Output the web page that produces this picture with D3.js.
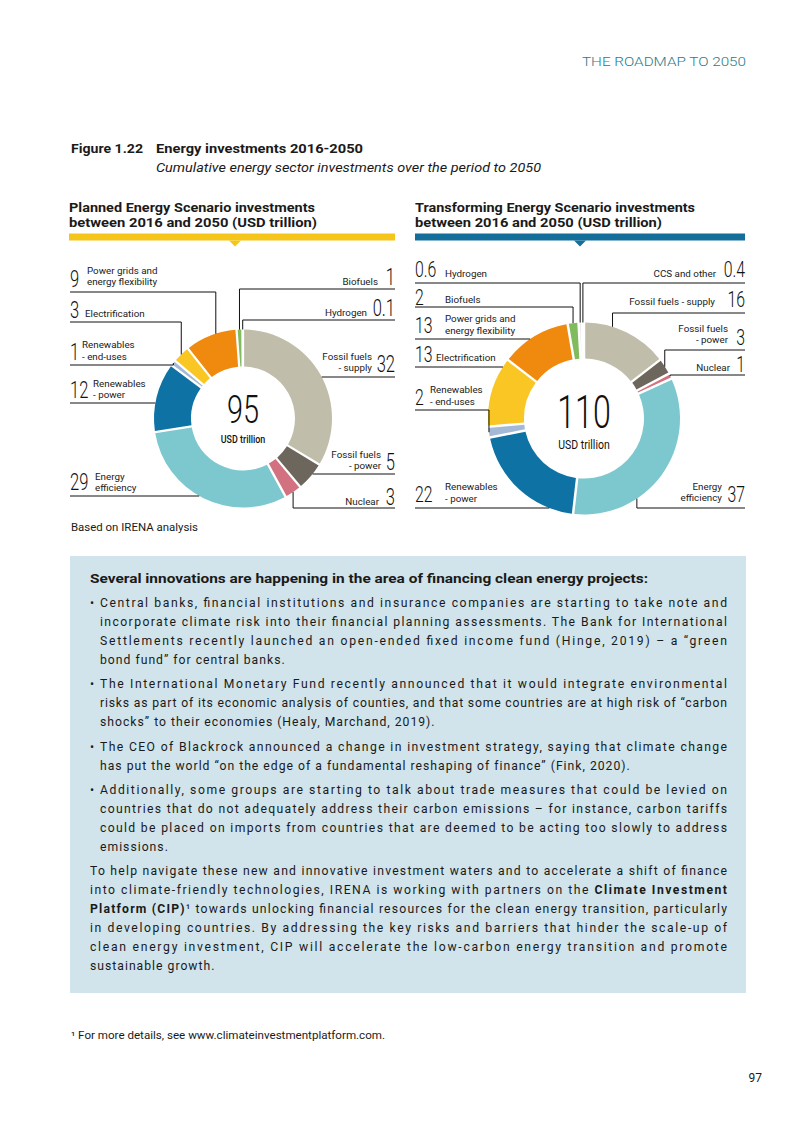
<!DOCTYPE html>
<html><head><meta charset="utf-8">
<script src="https://cdn.jsdelivr.net/npm/d3@7"></script>
<style>
body{margin:0;background:#fff;}
svg{display:block;}
</style></head><body>
<svg id="page" width="803" height="1134"></svg>
<script>
// ---------- DATA ----------
const categories = ["Fossil fuels - supply","Fossil fuels - power","Nuclear","Energy efficiency","Renewables - power","Renewables - end-uses","Electrification","Power grids and energy flexibility","Biofuels","Hydrogen","CCS and other"];
const plannedValues = [32,5,3,29,12,1,3,9,1,0.1,0];
const transformingValues = [16,3,1,37,22,2,13,13,2,0.6,0.4];
const plannedTotal = 95;
const transformingTotal = 110;
const totalUnit = "USD trillion";
const sliceColors = ["#C0BDAA","#6D665C","#D2717F","#7DC8CF","#0E73A4","#A4B9D6","#F9C623","#F08A0E","#80BB5E","#E4E4E4","#D2D2D2"];

// ---------- LAYOUT (label placement) ----------
const plannedLayout = [
 {i:7, side:"L", lineY:292, numY:287, lines:["Power grids and","energy flexibility"], tx:87, ty:[273.5,285], mode:"elbow", at:0.6},
 {i:6, side:"L", lineY:322, numY:318, lines:["Electrification"], tx:85, ty:[317], mode:"elbow"},
 {i:5, side:"L", lineY:365, numY:360, lines:["Renewables","- end-uses"], tx:82, ty:[348,359.5], mode:"elbow"},
 {i:4, side:"L", lineY:403, numY:398, lines:["Renewables","- power"], tx:93, ty:[386.5,398], mode:"flat"},
 {i:3, side:"L", lineY:496, numY:490, lines:["Energy","efficiency"], tx:95, ty:[479.5,491], mode:"flat"},
 {i:8, side:"R", lineY:289, numY:285, lines:["Biofuels"], tx:378, ty:[285], mode:"elbow"},
 {i:9, side:"R", lineY:320, numY:316, lines:["Hydrogen"], tx:367, ty:[316], mode:"elbow"},
 {i:0, side:"R", lineY:377, numY:372, lines:["Fossil fuels","- supply"], tx:372, ty:[359.5,371], mode:"flat"},
 {i:1, side:"R", lineY:474, numY:470, lines:["Fossil fuels","- power"], tx:381, ty:[457.5,469], mode:"flat"},
 {i:2, side:"R", lineY:508, numY:505, lines:["Nuclear"], tx:379, ty:[505], mode:"elbow"}
];
const transformingLayout = [
 {i:9, side:"L", lineY:283, numY:277, lines:["Hydrogen"], tx:445, ty:[277], mode:"elbow"},
 {i:8, side:"L", lineY:307, numY:305, lines:["Biofuels"], tx:445, ty:[303], mode:"elbow"},
 {i:7, side:"L", lineY:339, numY:333, lines:["Power grids and","energy flexibility"], tx:445, ty:[322,333.5], mode:"flat"},
 {i:6, side:"L", lineY:367, numY:362, lines:["Electrification"], tx:436, ty:[361], mode:"flat"},
 {i:5, side:"L", lineY:410, numY:405, lines:["Renewables","- end-uses"], tx:430, ty:[393,405], mode:"elbow"},
 {i:4, side:"L", lineY:508, numY:502, lines:["Renewables","- power"], tx:445, ty:[490,502], mode:"flat"},
 {i:10, side:"R", lineY:283, numY:277, lines:["CCS and other"], tx:716, ty:[277], mode:"elbow"},
 {i:0, side:"R", lineY:313, numY:307, lines:["Fossil fuels - supply"], tx:715, ty:[305], mode:"elbow", at:0.33},
 {i:1, side:"R", lineY:350, numY:345, lines:["Fossil fuels","- power"], tx:728, ty:[331.5,343], mode:"elbow"},
 {i:2, side:"R", lineY:375, numY:372, lines:["Nuclear"], tx:730, ty:[371], mode:"elbow"},
 {i:3, side:"R", lineY:508, numY:502, lines:["Energy","efficiency"], tx:722, ty:[489.5,501], mode:"elbow", at:0.67}
];

const svg = d3.select("#page");
const SANS = "Roboto, 'Open Sans', sans-serif";

function fitText(sel, x, y, txt, width, opts){
  const t = sel.append("text").attr("x",x).attr("y",y).text(txt)
    .attr("font-family", opts.family||SANS).attr("font-size", opts.size||12)
    .attr("font-weight", opts.weight||400).attr("fill", opts.fill||"#1a1a1a");
  if(opts.style) t.attr("font-style", opts.style);
  if(opts.anchor) t.attr("text-anchor", opts.anchor);
  if(width) t.attr("textLength", width).attr("lengthAdjust","spacingAndGlyphs");
  return t;
}

// ---------- HEADER ----------
fitText(svg, 582, 66, "THE ROADMAP TO 2050", 164, {size:13, weight:300, fill:"#2A7C88"});
fitText(svg, 71, 153, "Figure 1.22", 72, {size:12.5, weight:700});
fitText(svg, 156, 153, "Energy investments 2016-2050", 207, {size:12.5, weight:700});
fitText(svg, 156, 172, "Cumulative energy sector investments over the period to 2050", 385, {size:12.5, style:"italic"});

fitText(svg, 69, 212, "Planned Energy Scenario investments", 246, {size:12.5, weight:700});
fitText(svg, 69, 227, "between 2016 and 2050 (USD trillion)", 248, {size:12.5, weight:700});
fitText(svg, 415, 212, "Transforming Energy Scenario investments", 280, {size:12.5, weight:700});
fitText(svg, 415, 227, "between 2016 and 2050 (USD trillion)", 247, {size:12.5, weight:700});

function headerBar(x0, x1, tri, color){
  svg.append("rect").attr("x",x0).attr("y",233.5).attr("width",x1-x0).attr("height",7).attr("fill",color);
  svg.append("path").attr("d",`M${tri-6},240.5 L${tri+6},240.5 L${tri},246.5 Z`).attr("fill",color);
}
headerBar(69, 395, 235, "#F6C519");
headerBar(415, 745, 580, "#136F9A");

// ---------- DONUTS ----------
function donut(values, total, layout, cfg){
  const data = categories.map((c,i)=>({cat:c, value:values[i], i}));
  const pie = d3.pie().sort(null).value(d=>d.value).startAngle(0).endAngle(2*Math.PI);
  const arcs = pie(data);
  const arc = d3.arc().innerRadius(cfg.r).outerRadius(cfg.R).padAngle(cfg.pad);
  const g = svg.append("g").attr("transform",`translate(${cfg.cx},${cfg.cy})`);
  g.selectAll("path.slice").data(arcs.filter(a=>a.data.value>0)).join("path")
    .attr("class","slice").attr("d",arc).attr("fill",d=>sliceColors[d.data.i]);

  svg.append("text").attr("text-anchor","middle").attr("transform",`translate(${cfg.cx},${cfg.totY}) scale(${cfg.totSX},1)`)
    .attr("font-family",SANS).attr("font-weight",300).attr("font-size",cfg.totSize).attr("fill","#111").text(total);
  svg.append("text").attr("text-anchor","middle").attr("transform",`translate(${cfg.cx},${cfg.unitY}) scale(${cfg.unitSX},1)`)
    .attr("font-family",SANS).attr("font-weight",cfg.unitW).attr("font-size",cfg.unitSize).attr("fill","#111").text(totalUnit);

  layout.forEach(L=>{
    const a = arcs[L.i];
    const isLeft = L.side==="L";
    const xEdge = isLeft ? cfg.xL : cfg.xR;
    let path;
    if(L.mode==="flat"){
      const dy = L.lineY - cfg.cy;
      const dx = Math.sqrt(Math.max(0, cfg.R*cfg.R - dy*dy));
      const px = isLeft ? cfg.cx - dx : cfg.cx + dx;
      path = `M${xEdge},${L.lineY} H${px}`;
    } else {
      const f = L.at==null ? 0.5 : L.at;
      const ang = a.startAngle + f*(a.endAngle - a.startAngle);
      const px = cfg.cx + cfg.R*Math.sin(ang);
      const py = cfg.cy - cfg.R*Math.cos(ang);
      path = `M${xEdge},${L.lineY} H${px} V${py}`;
    }
    svg.append("path").attr("d",path).attr("fill","none").attr("stroke","#111").attr("stroke-width",1);

    svg.append("text").attr("text-anchor", isLeft?"start":"end")
      .attr("transform",`translate(${xEdge},${L.numY}) scale(0.72,1)`)
      .attr("font-family",SANS).attr("font-weight",300).attr("font-size",cfg.numSize).attr("fill","#111")
      .text(String(values[L.i]));
    L.lines.forEach((ln,k)=>{
      svg.append("text").attr("x",L.tx).attr("y",L.ty[k]).attr("text-anchor", isLeft?"start":"end")
        .attr("font-family",SANS).attr("font-size",9.8).attr("fill","#1a1a1a").text(ln);
    });
  });
}

donut(plannedValues, plannedTotal, plannedLayout,
  {cx:243, cy:418.5, R:89, r:52, pad:0.022, xL:70, xR:395, numSize:23,
   totY:423, totSize:38, totSX:0.76, unitY:443, unitSize:10.5, unitSX:0.85, unitW:500});
donut(transformingValues, transformingTotal, transformingLayout,
  {cx:584, cy:418.5, R:96, r:60, pad:0.022, xL:415, xR:745, numSize:22,
   totY:427.5, totSize:46, totSX:0.7, unitY:449, unitSize:12.5, unitSX:0.84, unitW:400});

fitText(svg, 71, 531, "Based on IRENA analysis", 127, {size:10});

// ---------- TEXT BOX ----------
svg.append("rect").attr("x",70).attr("y",556).attr("width",676).attr("height",437).attr("fill","#D1E4EB");
fitText(svg, 90, 583, "Several innovations are happening in the area of financing clean energy projects:", 558, {size:13.5, weight:700});

const boxLines = [
 {b:true,  j:true,  y:607, s:"Central banks, financial institutions and insurance companies are starting to take note and"},
 {b:false, j:true,  y:626, s:"incorporate climate risk into their financial planning assessments. The Bank for International"},
 {b:false, j:true,  y:645, s:"Settlements recently launched an open-ended fixed income fund (Hinge, 2019) – a “green"},
 {b:false, j:false, y:664, s:"bond fund” for central banks."},
 {b:true,  j:true,  y:688, s:"The International Monetary Fund recently announced that it would integrate environmental"},
 {b:false, j:true,  y:707, s:"risks as part of its economic analysis of counties, and that some countries are at high risk of “carbon"},
 {b:false, j:false, y:726, s:"shocks” to their economies (Healy, Marchand, 2019)."},
 {b:true,  j:true,  y:751, s:"The CEO of Blackrock announced a change in investment strategy, saying that climate change"},
 {b:false, j:false, y:770, s:"has put the world “on the edge of a fundamental reshaping of finance” (Fink, 2020)."},
 {b:true,  j:true,  y:794, s:"Additionally, some groups are starting to talk about trade measures that could be levied on"},
 {b:false, j:true,  y:813, s:"countries that do not adequately address their carbon emissions – for instance, carbon tariffs"},
 {b:false, j:true,  y:832, s:"could be placed on imports from countries that are deemed to be acting too slowly to address"},
 {b:false, j:false, y:851, s:"emissions."},
 {p:true, j:true,  y:875, s:"To help navigate these new and innovative investment waters and to accelerate a shift of finance"},
 {p:true, j:true,  y:894, s:"into climate-friendly technologies, IRENA is working with partners on the **Climate Investment**"},
 {p:true, j:true,  y:913, s:"**Platform (CIP)**¹ towards unlocking financial resources for the clean energy transition, particularly"},
 {p:true, j:true,  y:932, s:"in developing countries. By addressing the key risks and barriers that hinder the scale-up of"},
 {p:true, j:true,  y:951, s:"clean energy investment, CIP will accelerate the low-carbon energy transition and promote"},
 {p:true, j:false, y:970, s:"sustainable growth."}
];

const tg = svg.append("g").attr("font-family",SANS).attr("font-size",12.2).attr("fill","#1a1a1a");
boxLines.forEach(L=>{
  const x0 = L.p ? 90 : 100, x1 = 727;
  if(L.b) tg.append("text").attr("x",90).attr("y",L.y).text("•");
  const t = tg.append("text").attr("x",x0).attr("y",L.y);
  L.s.split("**").forEach((seg,k)=>{
    if(seg.length) t.append("tspan").attr("font-weight", k%2 ? 700 : 400).text(seg);
  });
  if(L.j){
    t.attr("textLength", x1-x0).attr("lengthAdjust","spacing");
  } else {
    t.attr("letter-spacing", 1.0);
  }
});

// ---------- FOOTER ----------
fitText(svg, 71, 1039, "¹ For more details, see www.climateinvestmentplatform.com.", 314, {size:10.5});
fitText(svg, 762, 1082, "97", null, {size:12, anchor:"end"});
</script>
</body></html>
